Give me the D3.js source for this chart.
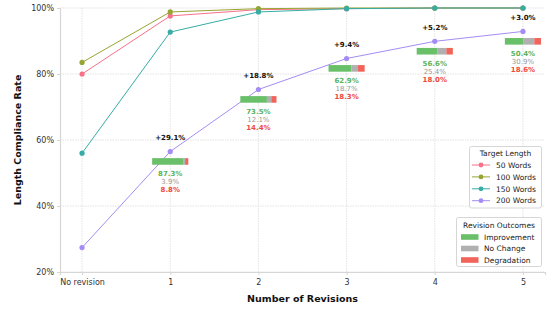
<!DOCTYPE html>
<html>
<head>
<meta charset="utf-8">
<script src="https://cdn.jsdelivr.net/npm/d3@7"></script>
<style>
  body { margin: 0; background: #fff; }
  svg { display: block; font-family: "DejaVu Sans", sans-serif; }
</style>
</head>
<body>
<div id="chart"></div>
<script>
// data
const rounds = ["No revision", "1", "2", "3", "4", "5"];
const names = ["50 Words", "100 Words", "150 Words", "200 Words"];
const colors = ["#f77189", "#97a431", "#36ada4", "#a48cf4"];
const words50 = [80.0, 97.6, 99.5, 99.8, 100, 100];
const words100 = [83.5, 98.8, 99.8, 100, 100, 100];
const words150 = [56.0, 92.7, 98.8, 99.8, 100, 100];
const words200 = [27.4, 56.5, 75.3, 84.7, 89.9, 92.9];
const gains = ["+29.1%", "+18.8%", "+9.4%", "+5.2%", "+3.0%"];
const improve = [87.3, 73.5, 62.9, 56.6, 50.4];
const nochange = [3.9, 12.1, 18.7, 25.4, 30.9];
const degrade = [8.8, 14.4, 18.3, 18.0, 18.6];
const yTicks = [20, 40, 60, 80, 100];

const series = [words50, words100, words150, words200];
const outNames = ["Improvement", "No Change", "Degradation"];
const outColors = ["#6abf69", "#b0b0b0", "#f0645a"];
const txtColors = ["#5cb35c", "#999999", "#f04a3e"];

const W = 548, H = 309;
const pl = 60, pr = 545, pt = 8, pb = 272;

const svg = d3.select("#chart").append("svg")
    .attr("width", W).attr("height", H);

const x = d3.scaleLinear().domain([-0.25, 5.25]).range([pl, pr]);
const y = d3.scaleLinear().domain([20, 100]).range([pb, pt]);

// grid
svg.append("g").selectAll("line").data(yTicks).join("line")
   .attr("x1", pl).attr("x2", pr)
   .attr("y1", d => y(d)).attr("y2", d => y(d))
   .attr("stroke", "#dcdcdc").attr("stroke-width", 0.8)
   .attr("stroke-dasharray", "1.5,1");
svg.append("g").selectAll("line").data(d3.range(rounds.length)).join("line")
   .attr("x1", d => x(d)).attr("x2", d => x(d))
   .attr("y1", pt).attr("y2", pb)
   .attr("stroke", "#dcdcdc").attr("stroke-width", 0.8)
   .attr("stroke-dasharray", "1.5,1");

// axes
const xAxis = svg.append("g")
   .attr("transform", `translate(0,${pb})`)
   .call(d3.axisBottom(x).tickValues(d3.range(rounds.length))
          .tickFormat(i => rounds[i]).tickSize(3).tickPadding(4));
const yAxis = svg.append("g")
   .attr("transform", `translate(${pl},0)`)
   .call(d3.axisLeft(y).tickValues(yTicks).tickFormat(d => d + "%")
          .tickSize(3).tickPadding(3));
[xAxis, yAxis].forEach(a => {
    a.select(".domain").attr("stroke", "#d6d6d6").attr("stroke-width", 1.2);
    a.selectAll(".tick line").attr("stroke", "#d6d6d6");
    a.selectAll(".tick text").attr("fill", "#333").attr("font-size", "8px")
     .attr("font-family", "DejaVu Sans");
});

svg.append("text")
   .attr("x", (pl + pr) / 2).attr("y", 302)
   .attr("text-anchor", "middle").attr("font-size", "9.5px")
   .attr("font-weight", "bold").attr("fill", "#111")
   .text("Number of Revisions");
svg.append("text")
   .attr("transform", `translate(21,${(pt + pb) / 2}) rotate(-90)`)
   .attr("text-anchor", "middle").attr("font-size", "9.5px")
   .attr("font-weight", "bold").attr("fill", "#111")
   .text("Length Compliance Rate");

// lines
const line = d3.line().x((d, i) => x(i)).y(d => y(d));
series.forEach((s, k) => {
    svg.append("path").datum(s)
       .attr("d", line).attr("fill", "none")
       .attr("stroke", colors[k]).attr("stroke-width", 1);
    svg.append("g").selectAll("circle").data(s).join("circle")
       .attr("cx", (d, i) => x(i)).attr("cy", d => y(d))
       .attr("r", 2.6).attr("fill", colors[k]);
});

// stacked outcome bars + labels
const bw = 0.41;
for (let j = 0; j < improve.length; j++) {
    const i = j + 1;
    const v = words200[i];
    const parts = [improve[j], nochange[j], degrade[j]];
    const tot = d3.sum(parts);
    const bx = d3.scaleLinear().domain([0, tot]).range([x(i - bw / 2), x(i + bw / 2)]);
    let acc = 0;
    parts.forEach((p, k) => {
        svg.append("rect")
           .attr("x", bx(acc)).attr("width", bx(acc + p) - bx(acc))
           .attr("y", y(v - 2)).attr("height", y(v - 4) - y(v - 2))
           .attr("fill", outColors[k]);
        acc += p;
    });
    parts.forEach((p, k) => {
        svg.append("text")
           .attr("x", x(i)).attr("y", y(v) + 24.5 + k * 8)
           .attr("text-anchor", "middle").attr("font-size", "7px")
           .attr("font-weight", k === 1 ? "normal" : "bold")
           .attr("fill", txtColors[k])
           .text(p.toFixed(1) + "%");
    });
    svg.append("text")
       .attr("x", x(i)).attr("y", y(v) - 11.5)
       .attr("text-anchor", "middle").attr("font-size", "7px")
       .attr("font-weight", "bold").attr("fill", "#111")
       .text(gains[j]);
}

// legend: target length
const lg1 = svg.append("g");
lg1.append("rect").attr("x", 469.5).attr("y", 146.5).attr("width", 72).attr("height", 61.5)
   .attr("rx", 2).attr("fill", "#fff").attr("fill-opacity", 0.85)
   .attr("stroke", "#cccccc").attr("stroke-width", 0.8);
lg1.append("text").attr("x", 505.5).attr("y", 156).attr("text-anchor", "middle")
   .attr("font-size", "7.5px").attr("fill", "#222").text("Target Length");
names.forEach((n, k) => {
    const ly = 165 + k * 11.9;
    lg1.append("line").attr("x1", 472).attr("x2", 490).attr("y1", ly).attr("y2", ly)
       .attr("stroke", colors[k]).attr("stroke-width", 1);
    lg1.append("circle").attr("cx", 481).attr("cy", ly).attr("r", 2.4).attr("fill", colors[k]);
    lg1.append("text").attr("x", 496).attr("y", ly + 2.7)
       .attr("font-size", "7.5px").attr("fill", "#222").text(n);
});

// legend: revision outcomes
const lg2 = svg.append("g");
lg2.append("rect").attr("x", 456.5).attr("y", 217.5).attr("width", 85).attr("height", 49)
   .attr("rx", 2).attr("fill", "#fff").attr("fill-opacity", 0.85)
   .attr("stroke", "#cccccc").attr("stroke-width", 0.8);
lg2.append("text").attr("x", 499).attr("y", 228).attr("text-anchor", "middle")
   .attr("font-size", "7.5px").attr("fill", "#222").text("Revision Outcomes");
outNames.forEach((n, k) => {
    const ly = 237 + k * 11.5;
    lg2.append("rect").attr("x", 461).attr("y", ly - 2.8).attr("width", 17.5).attr("height", 5.6)
       .attr("fill", outColors[k]);
    lg2.append("text").attr("x", 484).attr("y", ly + 2.7)
       .attr("font-size", "7.5px").attr("fill", "#222").text(n);
});
</script>
</body>
</html>
